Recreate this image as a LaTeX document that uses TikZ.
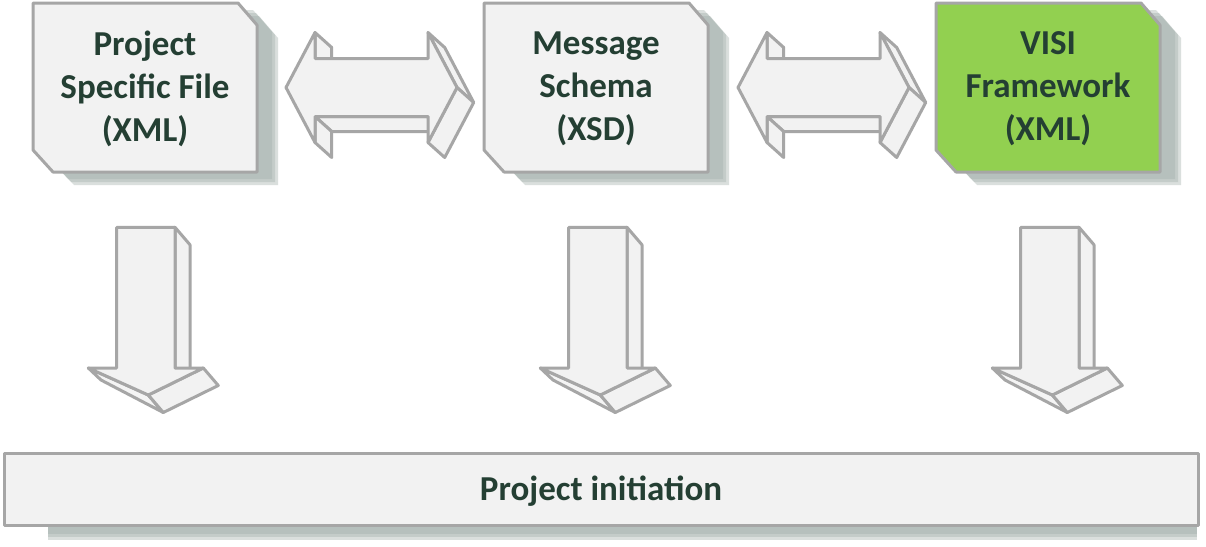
\documentclass[tikz,border=0pt]{standalone}
\usepackage{fontspec}
\setmainfont{Carlito}
\definecolor{edgegray}{HTML}{A6A6A6}
\definecolor{facegray}{HTML}{F2F2F2}
\definecolor{sidegray}{HTML}{F4F4F4}
\definecolor{boxgreen}{HTML}{92D050}
\definecolor{txtgreen}{HTML}{243F33}
\definecolor{shadowc}{HTML}{A3B0AB}
\tikzset{
  outl/.style={draw=edgegray, line width=3pt, line join=round},
  face/.style={outl, fill=facegray},
  shade1/.style={fill=shadowc, fill opacity=0.4, draw=none},
  lbl/.style={text=txtgreen, font=\bfseries\fontsize{35}{43}\selectfont, align=center, inner sep=0pt},
}
\newcommand\docshape{(33,3) -- (238,3) -- (257,25) -- (257,172) -- (53,172) -- (33,150) -- cycle}
\newcommand\docbox[2]{%
  \begin{scope}[xshift=#1]
    \foreach \dx/\dy in {15/7,18/10,21/13}{
      \fill[shade1, xshift=\dx pt, yshift=-\dy pt] \docshape;
    }
    \draw[outl, fill=#2] \docshape;
  \end{scope}}
\newcommand\harrow[1]{%
  \begin{scope}[xshift=#1]
    \draw[face] (315,116.5) -- (428,116.5) -- (444.7,131.5) -- (331.7,131.5) -- cycle;
    \draw[face] (428,32.5) -- (444.7,47.5) -- (473.7,102.5) -- (457,87.5) -- cycle;
    \draw[face] (457,87.5) -- (473.7,102.5) -- (444.7,157.5) -- (428,142.5) -- cycle;
    \draw[face] (315,32.5) -- (331.7,47.5) -- (331.7,73.5) -- (315,58.5) -- cycle;
    \draw[face] (315,116.5) -- (331.7,131.5) -- (331.7,157.5) -- (315,142.5) -- cycle;
    \draw[face] (286,87.5) -- (315,32.5) -- (315,58.5) -- (428,58.5) -- (428,32.5) -- (457,87.5)
      -- (428,142.5) -- (428,116.5) -- (315,116.5) -- (315,142.5) -- cycle;
  \end{scope}}
\newcommand\varrow[1]{%
  \begin{scope}[xshift=#1]
    \draw[face] (175,227.3) -- (190,244.8) -- (190,385.5) -- (175,368) -- cycle;
    \draw[outl, fill=sidegray] (88.3,368) -- (148.3,395) -- (163.3,412.5) -- (101,380) -- cycle;
    \draw[face] (203.3,368) -- (218.3,385.5) -- (163.3,412.5) -- (148.3,395) -- cycle;
    \draw[face] (116.7,227.3) -- (175,227.3) -- (175,368) -- (203.3,368) -- (148.3,395)
      -- (88.3,368) -- (116.7,368) -- cycle;
  \end{scope}}
\begin{document}
\begin{tikzpicture}[x=1pt, y=-1pt]
\useasboundingbox[fill=white] (0,0) rectangle (1206,546);
% boxes
\docbox{0pt}{facegray}
\docbox{451pt}{facegray}
\docbox{903pt}{boxgreen}
\node[lbl] (t1) at (145,89) {Project\\Specific File\\(XML)};
\node[lbl] (t2) at (596,89) {Message\\Schema\\(XSD)};
\node[lbl] (t3) at (1048,89) {VISI\\Framework\\(XML)};
% horizontal arrows
\harrow{0pt}
\harrow{452pt}
% vertical arrows
\varrow{0pt}
\varrow{452pt}
\varrow{904pt}
% bottom bar
\foreach \dy in {9,12,15}{
  \fill[shade1] (48,453+\dy) rectangle (1197,525+\dy);
}
\draw[outl, fill=facegray] (4,453) rectangle (1198,525);
\node[lbl] (bar) at (601,491) {Project initiation};
\end{tikzpicture}
\end{document}
